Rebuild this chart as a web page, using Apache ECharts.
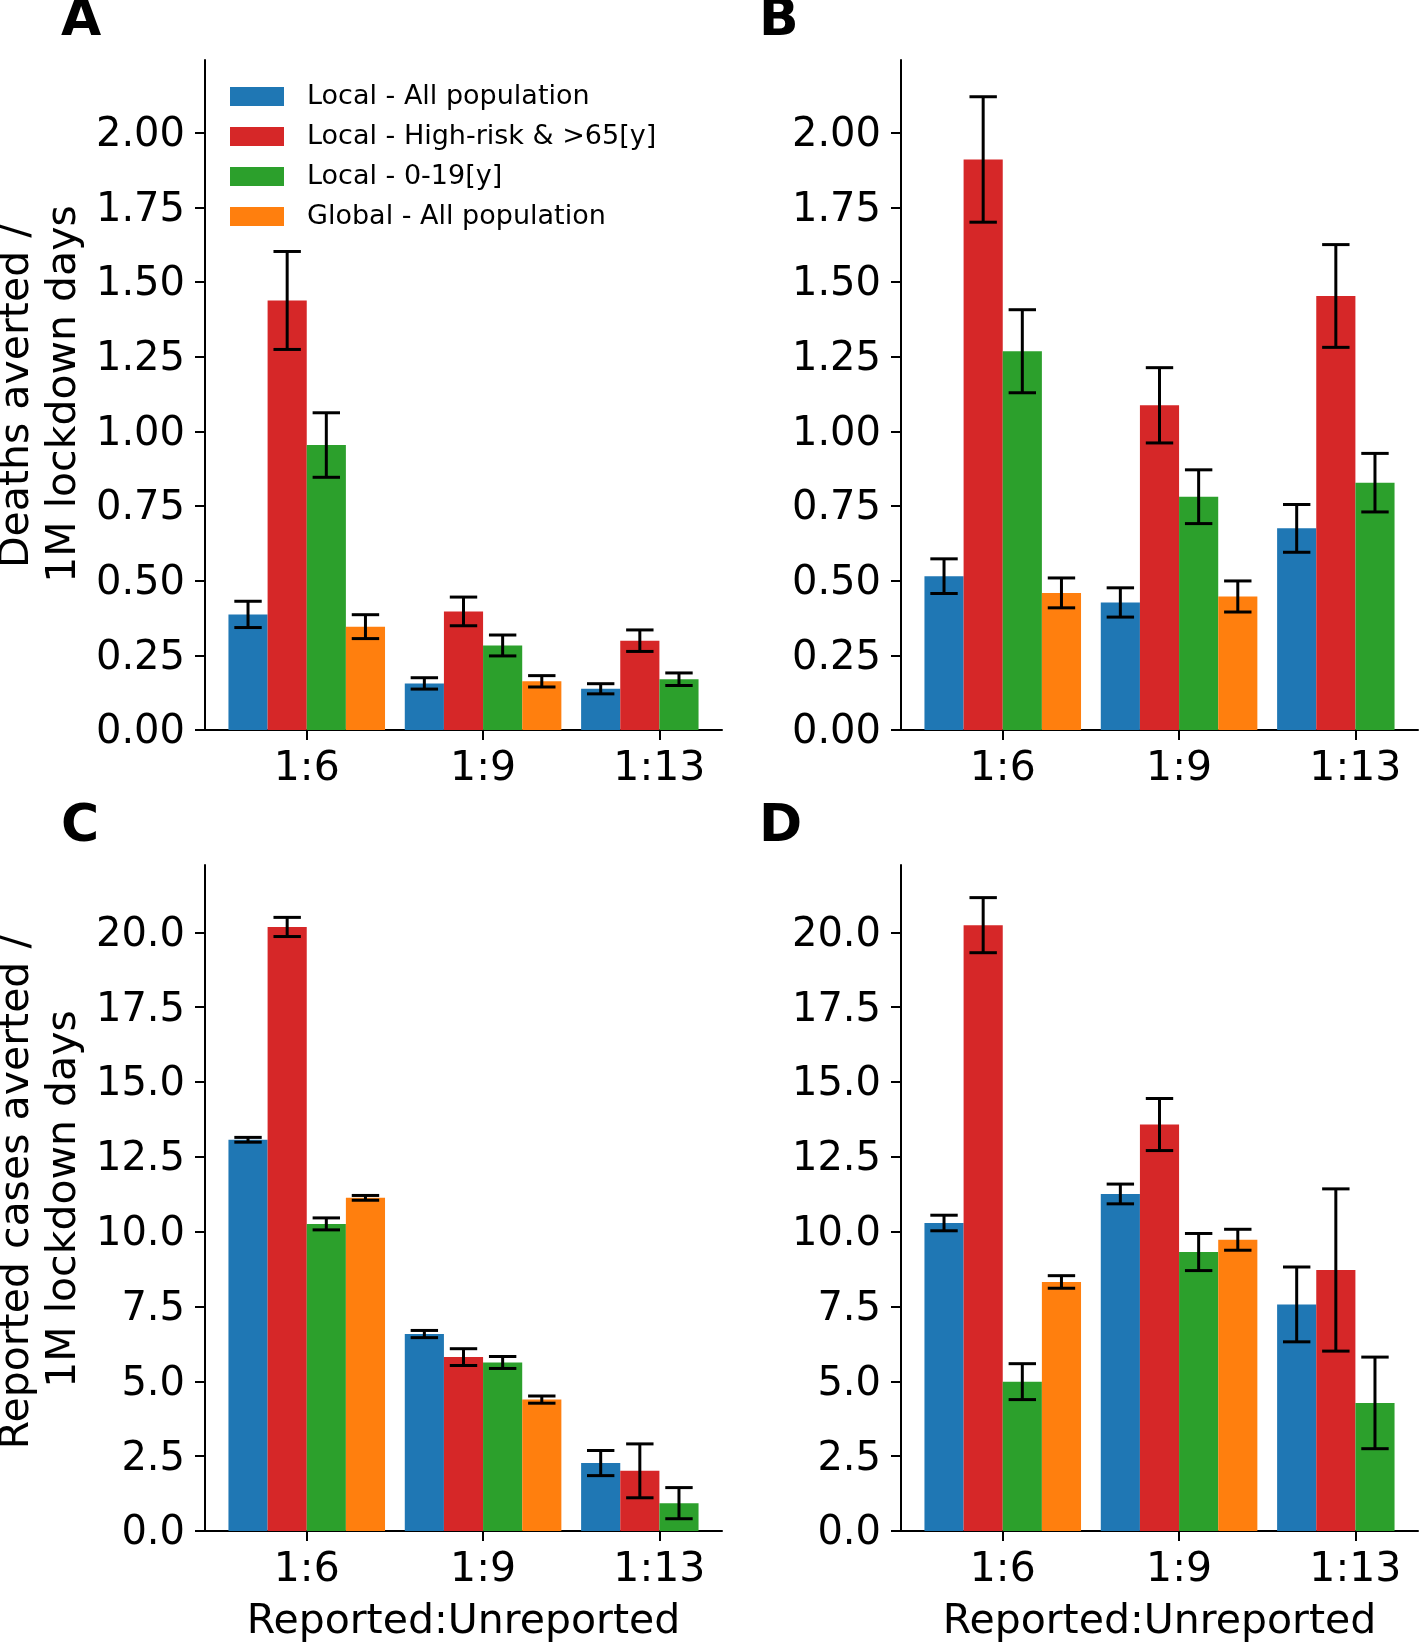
<!DOCTYPE html>
<html>
<head>
<meta charset="utf-8">
<script src="https://cdn.jsdelivr.net/npm/echarts@6/dist/echarts.min.js"></script>
<style>
html,body{margin:0;padding:0;background:#fff;}
#chart{width:1419px;height:1644px;}
</style>
</head>
<body>
<div id="chart"></div>
<script>
// ---------- data ----------
const categories = ['1:6', '1:9', '1:13'];
const groupNames = ['Local - All population', 'Local - High-risk & >65[y]', 'Local - 0-19[y]', 'Global - All population'];
const groupColors = ['#1f77b4', '#d62728', '#2ca02c', '#ff7f0e'];

// Panel A: deaths averted
const A_allPop = [0.387, 0.156, 0.138];
const A_allPopErr = [0.044, 0.019, 0.017];
const A_highRisk = [1.438, 0.397, 0.299];
const A_highRiskErr = [0.164, 0.048, 0.036];
const A_young = [0.954, 0.283, 0.170];
const A_youngErr = [0.108, 0.035, 0.021];
const A_global = [0.346, 0.163, null];
const A_globalErr = [0.040, 0.019, null];

// Panel B: deaths averted
const B_allPop = [0.515, 0.427, 0.675];
const B_allPopErr = [0.058, 0.049, 0.080];
const B_highRisk = [1.910, 1.087, 1.453];
const B_highRiskErr = [0.210, 0.126, 0.172];
const B_young = [1.268, 0.781, 0.828];
const B_youngErr = [0.139, 0.090, 0.098];
const B_global = [0.459, 0.447, null];
const B_globalErr = [0.050, 0.052, null];

// Panel C: reported cases averted
const C_allPop = [13.07, 6.58, 2.27];
const C_allPopErr = [0.08, 0.12, 0.42];
const C_highRisk = [20.18, 5.81, 2.01];
const C_highRiskErr = [0.32, 0.28, 0.90];
const C_young = [10.26, 5.63, 0.93];
const C_youngErr = [0.20, 0.20, 0.52];
const C_global = [11.13, 4.39, null];
const C_globalErr = [0.08, 0.12, null];

// Panel D: reported cases averted
const D_allPop = [10.29, 11.26, 7.57];
const D_allPopErr = [0.26, 0.33, 1.25];
const D_highRisk = [20.24, 13.58, 8.72];
const D_highRiskErr = [0.92, 0.87, 2.71];
const D_young = [4.99, 9.32, 4.28];
const D_youngErr = [0.60, 0.62, 1.53];
const D_global = [8.32, 9.73, null];
const D_globalErr = [0.21, 0.35, null];

// tick labels
const deathTickValues = [0, 0.25, 0.5, 0.75, 1, 1.25, 1.5, 1.75, 2];
const deathTickLabels = ['0.00', '0.25', '0.50', '0.75', '1.00', '1.25', '1.50', '1.75', '2.00'];
const caseTickValues = [0, 2.5, 5, 7.5, 10, 12.5, 15, 17.5, 20];
const caseTickLabels = ['0.0', '2.5', '5.0', '7.5', '10.0', '12.5', '15.0', '17.5', '20.0'];
const xTickValues = [0, 1, 2];

const yTitleDeaths = ['Deaths averted /', '1M lockdown days'];
const yTitleCases = ['Reported cases averted /', '1M lockdown days'];
const xTitle = 'Reported:Unreported';
const panelLetters = ['A', 'B', 'C', 'D'];

// ---------- layout ----------
const FONT = 'DejaVu Sans';
const BAR_W = 0.222;
const X_MIN = -0.577, X_MAX = 2.355;
const DEATH_MAX = 2.243, CASE_MAX = 22.25;

const panels = [
  { vals: [A_allPop, A_highRisk, A_young, A_global], errs: [A_allPopErr, A_highRiskErr, A_youngErr, A_globalErr], grid: { left: 205, top: 60 }, max: DEATH_MAX, tv: deathTickValues, tl: deathTickLabels, xname: '' },
  { vals: [B_allPop, B_highRisk, B_young, B_global], errs: [B_allPopErr, B_highRiskErr, B_youngErr, B_globalErr], grid: { left: 901, top: 60 }, max: DEATH_MAX, tv: deathTickValues, tl: deathTickLabels, xname: '' },
  { vals: [C_allPop, C_highRisk, C_young, C_global], errs: [C_allPopErr, C_highRiskErr, C_youngErr, C_globalErr], grid: { left: 205, top: 865 }, max: CASE_MAX, tv: caseTickValues, tl: caseTickLabels, xname: xTitle },
  { vals: [D_allPop, D_highRisk, D_young, D_global], errs: [D_allPopErr, D_highRiskErr, D_youngErr, D_globalErr], grid: { left: 901, top: 865 }, max: CASE_MAX, tv: caseTickValues, tl: caseTickLabels, xname: xTitle }
];

const grids = [], xAxes = [], yAxes = [], series = [];
panels.forEach((p, pi) => {
  grids.push({ left: p.grid.left, top: p.grid.top, width: 517, height: 670 });
  xAxes.push({
    type: 'value', gridIndex: pi, min: X_MIN, max: X_MAX,
    axisLine: { show: true, onZero: false, lineStyle: { color: '#000', width: 2 } },
    axisTick: { show: true, customValues: xTickValues, length: 10, lineStyle: { color: '#000', width: 2 } },
    axisLabel: { customValues: xTickValues, formatter: v => categories[Math.round(v)], color: '#000', fontFamily: FONT, fontSize: 41, margin: 19 },
    splitLine: { show: false },
    name: p.xname, nameLocation: 'middle', nameGap: 71,
    nameTextStyle: { color: '#000', fontFamily: FONT, fontSize: 41 }
  });
  yAxes.push({
    type: 'value', gridIndex: pi, min: 0, max: p.max,
    axisLine: { show: true, onZero: false, lineStyle: { color: '#000', width: 2 } },
    axisTick: { show: true, customValues: p.tv, length: 10, lineStyle: { color: '#000', width: 2 } },
    axisLabel: { customValues: p.tv, formatter: v => p.tl[p.tv.indexOf(v)], color: '#000', fontFamily: FONT, fontSize: 40, margin: 20, verticalAlign: 'top', lineHeight: 6 },
    splitLine: { show: false }
  });
  p.vals.forEach((arr, si) => {
    const data = [];
    arr.forEach((v, ci) => { if (v !== null) data.push([ci, v, p.errs[si][ci]]); });
    series.push({
      type: 'custom', name: groupNames[si], xAxisIndex: pi, yAxisIndex: pi,
      itemStyle: { color: groupColors[si] },
      clip: false,
      encode: { x: 0, y: 1 },
      data: data,
      renderItem: (params, api) => {
        const cat = api.value(0), val = api.value(1), err = api.value(2);
        const xc = cat + (si - 1.5) * BAR_W;
        const tl = api.coord([xc - BAR_W / 2, val]);
        const br = api.coord([xc + BAR_W / 2, 0]);
        const top = api.coord([xc, val + err]);
        const bot = api.coord([xc, val - err]);
        const cap = (br[0] - tl[0]) * 0.35;
        const ls = { stroke: '#000', lineWidth: 3 };
        return {
          type: 'group',
          children: [
            { type: 'rect', shape: { x: tl[0], y: tl[1], width: br[0] - tl[0], height: br[1] - tl[1] }, style: { fill: groupColors[si] } },
            { type: 'line', shape: { x1: top[0], y1: top[1], x2: bot[0], y2: bot[1] }, style: ls },
            { type: 'line', shape: { x1: top[0] - cap, y1: top[1], x2: top[0] + cap, y2: top[1] }, style: ls },
            { type: 'line', shape: { x1: bot[0] - cap, y1: bot[1], x2: bot[0] + cap, y2: bot[1] }, style: ls }
          ]
        };
      }
    });
  });
});

function vText(txt, x, y) {
  return { type: 'text', x: x, y: y, rotation: Math.PI / 2, style: { text: txt, font: '41px "DejaVu Sans"', fill: '#000', align: 'center', verticalAlign: 'middle' } };
}
function letter(txt, x, y) {
  return { type: 'text', x: x, y: y, style: { text: txt, font: 'bold 52px "DejaVu Sans"', fill: '#000', align: 'left', verticalAlign: 'middle' } };
}
const graphics = [
  vText(yTitleDeaths[0], 17, 396),
  vText(yTitleDeaths[1], 64, 394),
  vText(yTitleCases[0], 17, 1192),
  vText(yTitleCases[1], 64, 1199),
  letter(panelLetters[0], 61, 21.5),
  letter(panelLetters[1], 759, 21.5),
  letter(panelLetters[2], 61, 827),
  letter(panelLetters[3], 759, 827)
];

const chart = echarts.init(document.getElementById('chart'), null, { renderer: 'canvas' });
chart.setOption({
  backgroundColor: '#fff',
  animation: false,
  grid: grids,
  xAxis: xAxes,
  yAxis: yAxes,
  legend: {
    data: groupNames, orient: 'vertical', left: 230, top: 83, padding: 0,
    icon: 'rect', itemWidth: 54, itemHeight: 19, itemGap: 13,
    textStyle: { color: '#000', fontFamily: FONT, fontSize: 27, lineHeight: 27, padding: [0, 0, 0, 18] },
    selectedMode: false
  },
  series: series,
  graphic: graphics
});
</script>
</body>
</html>
